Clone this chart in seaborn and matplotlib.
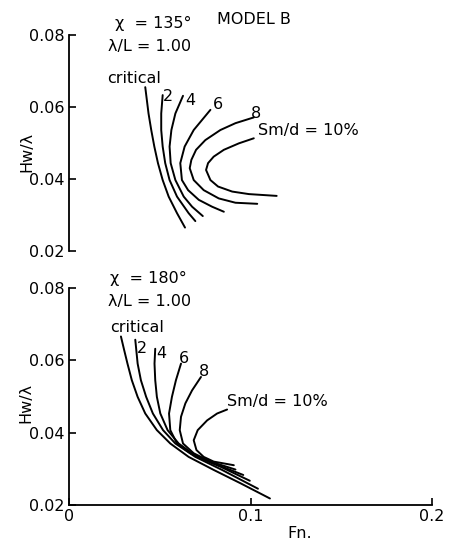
import matplotlib
matplotlib.use("Agg")
import matplotlib.pyplot as plt
import numpy as np
import pandas as pd
import seaborn as sns

# ---- heading 135 deg, lambda/L = 1.00 ----
fn_135_crit = [0.0420, 0.0438, 0.0453, 0.0470, 0.0490, 0.0516, 0.0549, 0.0595, 0.0639]
hw_135_crit = [0.0655, 0.0582, 0.0536, 0.0490, 0.0444, 0.0397, 0.0351, 0.0305, 0.0265]
fn_135_2 = [0.0516, 0.0508, 0.0508, 0.0516, 0.0530, 0.0554, 0.0595, 0.0659, 0.0696]
hw_135_2 = [0.0633, 0.0582, 0.0536, 0.0490, 0.0444, 0.0397, 0.0351, 0.0305, 0.0283]
fn_135_4 = [0.0628, 0.0586, 0.0564, 0.0554, 0.0560, 0.0586, 0.0632, 0.0678, 0.0737]
hw_135_4 = [0.0631, 0.0582, 0.0536, 0.0490, 0.0444, 0.0397, 0.0351, 0.0323, 0.0297]
fn_135_6 = [0.0779, 0.0733, 0.0687, 0.0637, 0.0613, 0.0622, 0.0656, 0.0715, 0.0788, 0.0853]
hw_135_6 = [0.0592, 0.0564, 0.0536, 0.0490, 0.0444, 0.0397, 0.0369, 0.0342, 0.0323, 0.0309]
fn_135_8 = [0.1018, 0.0917, 0.0834, 0.0751, 0.0700, 0.0674, 0.0665, 0.0687, 0.0742,
            0.0825, 0.0917, 0.1037]
hw_135_8 = [0.0571, 0.0555, 0.0536, 0.0508, 0.0481, 0.0453, 0.0430, 0.0397, 0.0369,
            0.0346, 0.0334, 0.0331]
fn_135_10 = [0.1018, 0.0936, 0.0853, 0.0797, 0.0766, 0.0755, 0.0779, 0.0821, 0.0899,
             0.0991, 0.1144]
hw_135_10 = [0.0513, 0.0499, 0.0481, 0.0462, 0.0444, 0.0425, 0.0397, 0.0379, 0.0365,
             0.0358, 0.0353]

# ---- heading 180 deg, lambda/L = 1.00 ----
fn_180_crit = [0.0286, 0.0304, 0.0322, 0.0346, 0.0378, 0.0420, 0.0484, 0.0558, 0.0659,
               0.0797, 0.0945, 0.1107]
hw_180_crit = [0.0666, 0.0628, 0.0591, 0.0545, 0.0499, 0.0453, 0.0407, 0.0370, 0.0333,
               0.0297, 0.0260, 0.0218]
fn_180_2 = [0.0365, 0.0378, 0.0396, 0.0425, 0.0462, 0.0518, 0.0586, 0.0696, 0.0843, 0.1041]
hw_180_2 = [0.0657, 0.0591, 0.0545, 0.0499, 0.0453, 0.0407, 0.0370, 0.0333, 0.0297, 0.0245]
fn_180_4 = [0.0475, 0.0471, 0.0475, 0.0484, 0.0503, 0.0543, 0.0604, 0.0705, 0.0834, 0.0996]
hw_180_4 = [0.0632, 0.0591, 0.0545, 0.0499, 0.0453, 0.0407, 0.0370, 0.0333, 0.0306, 0.0267]
fn_180_6 = [0.0617, 0.0589, 0.0567, 0.0551, 0.0558, 0.0595, 0.0669, 0.0797, 0.0960]
hw_180_6 = [0.0591, 0.0545, 0.0499, 0.0453, 0.0407, 0.0370, 0.0343, 0.0315, 0.0283]
fn_180_8 = [0.0727, 0.0678, 0.0641, 0.0617, 0.0610, 0.0628, 0.0687, 0.0779, 0.0917]
hw_180_8 = [0.0554, 0.0517, 0.0481, 0.0444, 0.0407, 0.0370, 0.0343, 0.0320, 0.0298]
fn_180_10 = [0.0871, 0.0816, 0.0761, 0.0709, 0.0687, 0.0702, 0.0742, 0.0797, 0.0908]
hw_180_10 = [0.0464, 0.0453, 0.0434, 0.0407, 0.0379, 0.0352, 0.0333, 0.0320, 0.0310]

curve_names = ["critical", "2", "4", "6", "8", "10"]
y_ticks = [0.02, 0.04, 0.06, 0.08]
y_tick_labels = ["0.02", "0.04", "0.06", "0.08"]
x_ticks = [0.0, 0.1, 0.2]
x_tick_labels = ["0", "0.1", "0.2"]


def to_frame(fns, hws):
    parts = []
    for name, f, h in zip(curve_names, fns, hws):
        parts.append(pd.DataFrame({"Fn": f, "Hw": h, "curve": name,
                                   "order": np.arange(len(f))}))
    return pd.concat(parts, ignore_index=True)


df_135 = to_frame([fn_135_crit, fn_135_2, fn_135_4, fn_135_6, fn_135_8, fn_135_10],
                  [hw_135_crit, hw_135_2, hw_135_4, hw_135_6, hw_135_8, hw_135_10])
df_180 = to_frame([fn_180_crit, fn_180_2, fn_180_4, fn_180_6, fn_180_8, fn_180_10],
                  [hw_180_crit, hw_180_2, hw_180_4, hw_180_6, hw_180_8, hw_180_10])

sns.set_theme(style="white")
plt.rcParams["font.family"] = ["DejaVu Sans"]
plt.rcParams["text.color"] = "black"
plt.rcParams["axes.labelcolor"] = "black"
FS = 11.5

fig = plt.figure(figsize=(4.58, 5.43), dpi=100)
ax_top = fig.add_axes([0.1507, 0.5378, 0.7926, 0.3978])
ax_bot = fig.add_axes([0.1507, 0.0700, 0.7926, 0.3996])

for ax, df in ((ax_top, df_135), (ax_bot, df_180)):
    sns.lineplot(data=df, x="Fn", y="Hw", units="curve", estimator=None,
                 sort=False, color="black", linewidth=1.4, ax=ax)
    ax.set_xlim(0, 0.2)
    ax.set_ylim(0.02, 0.08)
    ax.set_yticks(y_ticks)
    ax.set_yticklabels(y_tick_labels)
    ax.tick_params(direction="in", length=5, width=1.2, pad=3,
                   labelsize=FS, colors="black", left=True, bottom=True)
    ax.set_ylabel("Hw/λ", fontsize=FS, color="black")
    for s in ax.spines.values():
        s.set_color("black")
        s.set_linewidth(1.3)
    ax.set_facecolor("none")

# upper chart: vertical axis only
sns.despine(ax=ax_top, top=True, right=True, bottom=True)
ax_top.set_xticks([])
ax_top.tick_params(bottom=False)
ax_top.set_xlabel("")
ax_top.yaxis.set_label_coords(-0.095, 0.458)

# lower chart: both axes
sns.despine(ax=ax_bot, top=True, right=True)
ax_bot.set_xticks(x_ticks)
ax_bot.set_xticklabels(x_tick_labels)
ax_bot.set_xlabel("Fn.", fontsize=FS, color="black")
ax_bot.xaxis.set_label_coords(0.636, -0.095)
ax_bot.yaxis.set_label_coords(-0.098, 0.47)

# annotations, upper chart
ax_top.text(0.0254, 0.0831, "χ  = 135°", fontsize=FS, va="center")
ax_top.text(0.0818, 0.0842, "MODEL B", fontsize=FS, va="center")
ax_top.text(0.0215, 0.0769, "λ/L = 1.00", fontsize=FS, va="center")
ax_top.text(0.0210, 0.0679, "critical", fontsize=FS, va="center")
ax_top.text(0.0544, 0.0629, "2", fontsize=FS, ha="center", va="center")
ax_top.text(0.0669, 0.0619, "4", fontsize=FS, ha="center", va="center")
ax_top.text(0.0818, 0.0608, "6", fontsize=FS, ha="center", va="center")
ax_top.text(0.1028, 0.0581, "8", fontsize=FS, ha="center", va="center")
ax_top.text(0.1039, 0.0536, "Sm/d = 10%", fontsize=FS, va="center")

# annotations, lower chart
ax_bot.text(0.0226, 0.0826, "χ  = 180°", fontsize=FS, va="center")
ax_bot.text(0.0215, 0.0763, "λ/L = 1.00", fontsize=FS, va="center")
ax_bot.text(0.0226, 0.0692, "critical", fontsize=FS, va="center")
ax_bot.text(0.0402, 0.0633, "2", fontsize=FS, ha="center", va="center")
ax_bot.text(0.0507, 0.0619, "4", fontsize=FS, ha="center", va="center")
ax_bot.text(0.0632, 0.0606, "6", fontsize=FS, ha="center", va="center")
ax_bot.text(0.0746, 0.0570, "8", fontsize=FS, ha="center", va="center")
ax_bot.text(0.0873, 0.0487, "Sm/d = 10%", fontsize=FS, va="center")

fig.savefig("out.png", dpi=100, facecolor="white")
